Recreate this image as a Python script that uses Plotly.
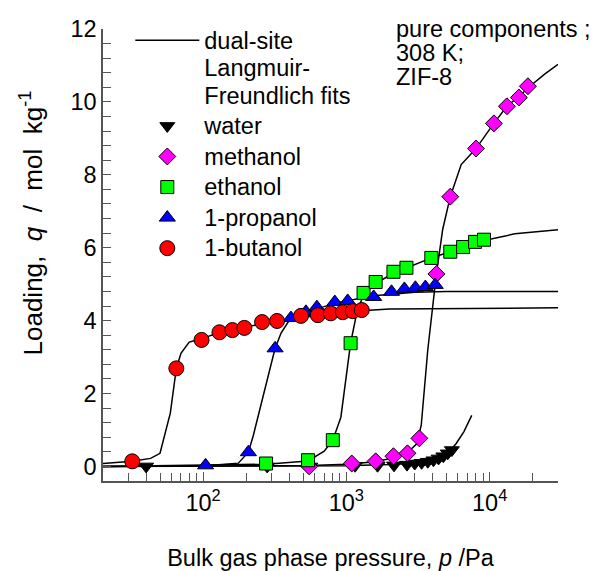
import plotly.graph_objects as go

# ---------------- data ----------------
water_p = [40, 280, 560, 1150, 1650, 2150, 2650, 3000, 3350, 3700, 4050, 4400, 4750, 5100, 5450]
water_q = [0.0, 0.0, 0.0, 0.02, 0.02, 0.03, 0.05, 0.08, 0.10, 0.13, 0.17, 0.22, 0.28, 0.36, 0.45]

methanol_p = [550, 1090, 1600, 2130, 2670, 3230, 4250, 5310, 8030, 10700, 13200, 16000, 18500]
methanol_q = [0.0, 0.08, 0.14, 0.28, 0.36, 0.77, 5.28, 7.40, 8.72, 9.41, 9.88, 10.12, 10.43]

ethanol_p = [275, 540, 804, 1070, 1318, 1600, 2130, 2625, 3915, 5310, 6530, 7910, 9130]
ethanol_q = [0.08, 0.17, 0.72, 3.38, 4.76, 5.06, 5.34, 5.45, 5.72, 5.89, 6.02, 6.16, 6.22]

propanol_p = [104, 207, 318, 410, 522, 622, 830, 1021, 1550, 2065, 2540, 3030, 3560, 4170]
propanol_q = [0.03, 0.39, 3.24, 4.07, 4.24, 4.37, 4.51, 4.54, 4.65, 4.79, 4.87, 4.90, 4.92, 4.98]

butanol_p = [32, 65, 97.5, 130, 160, 194, 258, 328, 482, 632, 778, 944, 1108, 1280]
butanol_q = [0.14, 2.69, 3.47, 3.68, 3.74, 3.80, 3.96, 3.99, 4.13, 4.15, 4.20, 4.23, 4.26, 4.29]

# dual-site Langmuir-Freundlich fit curves
water_fit_p = [20, 500, 1000, 2000, 3000, 4000, 5000, 5840, 6600, 7500]
water_fit_q = [0.0, 0.01, 0.02, 0.05, 0.09, 0.17, 0.32, 0.63, 0.95, 1.40]

methanol_fit_p = [20, 500, 1000, 1600, 2130, 2670, 3100, 3330, 3700, 4250, 4700, 5310,
                  6330, 8030, 10700, 13200, 16000, 19400, 24200, 30000]
methanol_fit_q = [0.0, 0.02, 0.06, 0.13, 0.24, 0.38, 0.62, 1.13, 3.2, 5.28, 6.5, 7.4,
                  8.28, 8.72, 9.41, 9.88, 10.15, 10.45, 10.76, 11.03]

ethanol_fit_p = [20, 275, 540, 700, 804, 915, 1070, 1180, 1318, 1600, 2130, 2625, 3915,
                 5310, 6530, 7910, 9130, 15000, 30000]
ethanol_fit_q = [0.0, 0.06, 0.15, 0.42, 0.72, 1.35, 3.38, 4.2, 4.72, 5.02, 5.3, 5.45, 5.72,
                 5.89, 6.02, 6.12, 6.2, 6.38, 6.49]

propanol_fit_p = [20, 104, 176, 207, 224, 318, 350, 398, 522, 830, 1550, 3000, 5000, 30000]
propanol_fit_q = [0.0, 0.02, 0.09, 0.39, 0.85, 3.24, 3.66, 4.0, 4.22, 4.48, 4.68, 4.78, 4.8, 4.8]

butanol_fit_p = [20, 32, 43, 50, 59, 65, 70, 80, 97.5, 130, 194, 328, 632, 1108, 2000, 30000]
butanol_fit_q = [0.08, 0.14, 0.22, 0.36, 1.46, 2.69, 3.1, 3.41, 3.5, 3.68, 3.82, 3.99, 4.15, 4.26, 4.32, 4.35]

x_tickvals = [100, 1000, 10000]
x_ticktext = ["10<sup>2</sup>", "10<sup>3</sup>", "10<sup>4</sup>"]

info_lines = ["pure components ;", "308 K;", "ZIF-8"]

FONT = "Liberation Sans, Arial, sans-serif"
FS = 23.5


def big(t):
    return "<span style='font-size:%spx'>%s</span>" % (FS, t)


fig = go.Figure()

fits = [(water_fit_p, water_fit_q), (methanol_fit_p, methanol_fit_q),
        (ethanol_fit_p, ethanol_fit_q), (propanol_fit_p, propanol_fit_q),
        (butanol_fit_p, butanol_fit_q)]
for i, (fp, fq) in enumerate(fits):
    fig.add_trace(go.Scatter(
        x=fp, y=fq, mode="lines",
        line=dict(color="black", width=1.5),
        name="<br>".join(big(s) for s in ["dual-site", "Langmuir-", "Freundlich fits"]),
        showlegend=(i == 0), hoverinfo="skip"))

series = [
    ("water", water_p, water_q, "triangle-down", "black", 13),
    ("methanol", methanol_p, methanol_q, "diamond", "#ff00ff", 13),
    ("ethanol", ethanol_p, ethanol_q, "square", "#00ff00", 13),
    ("1-propanol", propanol_p, propanol_q, "triangle-up", "#0000ff", 14),
    ("1-butanol", butanol_p, butanol_q, "circle", "#ff0000", 15),
]
for name, px, py, sym, col, sz in series:
    fig.add_trace(go.Scatter(
        x=px, y=py, mode="markers", name=big(name),
        marker=dict(symbol=sym, color=col, size=sz,
                    line=dict(color="black", width=1))))

# info text: one annotation, tight line spacing as in the reference
fig.add_annotation(
    xref="paper", yref="paper", x=0.64, y=0.948, xanchor="left", yanchor="middle",
    text="<br>".join(big(s) for s in info_lines), showarrow=False, align="left",
    font=dict(family=FONT, size=18.3, color="black"))

# y-axis title (placed as rotated text, as in the reference)
fig.add_annotation(
    xref="paper", yref="paper", x=-0.158, y=0.57, xanchor="center", yanchor="middle",
    textangle=-90, showarrow=False,
    text="Loading,  <i>q</i>  /  mol  kg<sup>-1</sup>",
    font=dict(family=FONT, size=26, color="black"))

fig.update_layout(
    width=597, height=571,
    margin=dict(l=103, r=39, t=29, b=90, autoexpand=False),
    paper_bgcolor="white", plot_bgcolor="white",
    font=dict(family=FONT, size=FS, color="black"),
    showlegend=True,
    legend=dict(x=0.06, y=1.02, xanchor="left", yanchor="top",
                bgcolor="rgba(0,0,0,0)", font=dict(family=FONT, size=21.2),
                itemwidth=64, valign="top", tracegroupgap=0),
    xaxis=dict(type="log", range=[1.30103, 4.4771], automargin=False,
               showline=True, linecolor="#555555", linewidth=1.5,
               showgrid=False, zeroline=False,
               ticks="inside", ticklen=9, tickcolor="#555555", tickwidth=1.2,
               tickvals=x_tickvals, ticktext=x_ticktext,
               minor=dict(ticks="inside", ticklen=8, tickcolor="#555555", tickwidth=1.2,
                          dtick="D1", showgrid=False),
               title=dict(text="Bulk gas phase pressure, <i>p</i> /Pa",
                          font=dict(family=FONT, size=FS), standoff=36),
               tickfont=dict(family=FONT, size=FS)),
    yaxis=dict(range=[-0.4, 12], automargin=False,
               showline=True, linecolor="#555555", linewidth=1.5,
               showgrid=False, zeroline=False,
               ticks="inside", ticklen=8, tickcolor="#555555", tickwidth=1.2,
               tickmode="linear", tick0=0, dtick=2,
               minor=dict(ticks="inside", ticklen=8, tickcolor="#555555", tickwidth=1.2,
                          dtick=0.4, showgrid=False),
               tickfont=dict(family=FONT, size=FS)),
)

fig.write_html("out.html")
